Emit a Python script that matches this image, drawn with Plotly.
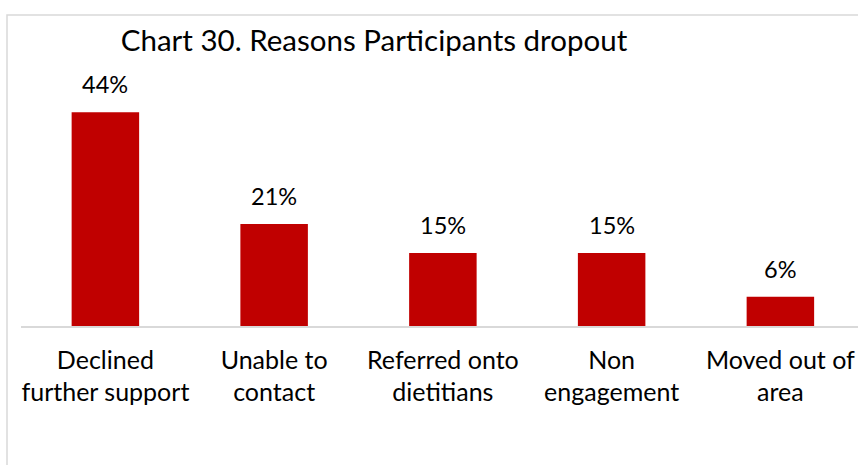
import plotly.graph_objects as go

categories = ["Declined<br>further support", "Unable to<br>contact", "Referred onto<br>dietitians",
              "Non<br>engagement", "Moved out of<br>area"]
values = [0.44, 0.21, 0.15, 0.15, 0.06]
value_labels = ["44%", "21%", "15%", "15%", "6%"]

FONT = "Lato"
BAR = "#C00000"
GRID = "#D9D9D9"

W, H = 858, 465
ml, mr, mt, mb = 21, 0, 83, 139
pw, ph = W - ml - mr, H - mt - mb

x_idx = list(range(len(categories)))

fig = go.Figure()
fig.add_trace(go.Bar(x=x_idx, y=values, marker=dict(color=BAR, line=dict(width=0)),
                     width=0.4, hoverinfo="skip"))

for xi, v, lab in zip(x_idx, values, value_labels):
    fig.add_annotation(x=xi, y=v, text=lab, showarrow=False, yanchor="bottom",
                       yshift=12, font=dict(family=FONT, size=23.5, color="#000000"))

def px_to_paper_x(px):
    return (px - ml) / pw

def px_to_paper_y(py):
    return (H - mb - py) / ph

fx = px_to_paper_x(7)
fy = px_to_paper_y(15)
fig.add_shape(type="path", xref="paper", yref="paper",
              path=f"M {fx},{px_to_paper_y(480)} L {fx},{fy} L {px_to_paper_x(880)},{fy}",
              line=dict(color=GRID, width=1.5))

fig.update_layout(
    width=W, height=H,
    margin=dict(l=ml, r=mr, t=mt, b=mb, pad=0),
    paper_bgcolor="white", plot_bgcolor="white",
    showlegend=False,
    title=dict(text="Chart 30. Reasons Participants dropout", x=374 / W, xanchor="center",
               y=1 - 41 / H, yanchor="middle", yref="container",
               font=dict(family=FONT, size=29.5, color="#000000")),
    xaxis=dict(range=[-0.5, 4.46], tickmode="array", tickvals=x_idx, ticktext=categories,
               showline=True, linecolor=GRID, linewidth=1.5, showgrid=False, zeroline=False,
               ticks="", ticklabelstandoff=11,
               tickfont=dict(family=FONT, size=25, color="#000000"), fixedrange=True),
    yaxis=dict(range=[0, 0.5], visible=False, fixedrange=True),
)

fig.write_html("out.html", config={"displayModeBar": False, "staticPlot": True},
               post_script="document.body.style.margin='0';document.body.style.overflow='hidden';")
